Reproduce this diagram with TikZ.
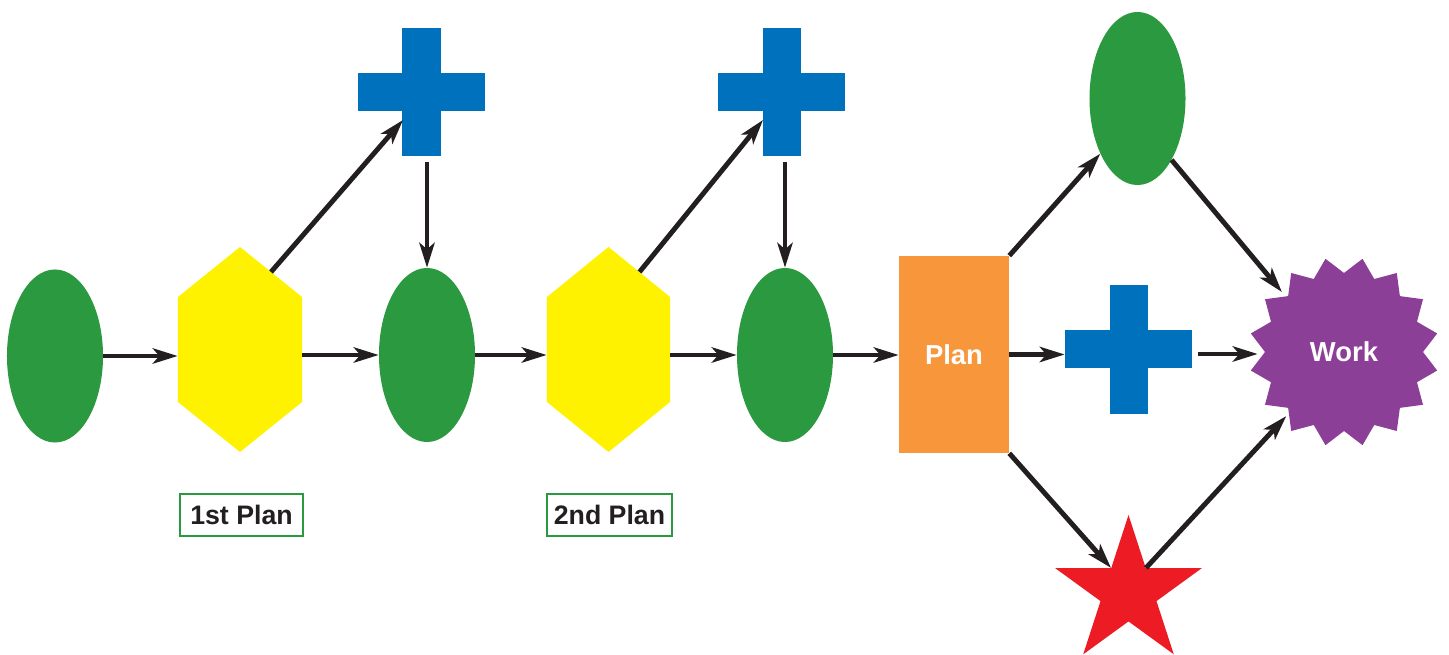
\documentclass[tikz,border=0pt]{standalone}
\usepackage{fontspec}
\setmainfont{Liberation Sans}
\usetikzlibrary{arrows.meta,shapes.geometric,calc}

\definecolor{leafgreen}{HTML}{2B9940}
\definecolor{sunyellow}{HTML}{FFF200}
\definecolor{crossblue}{HTML}{0071BC}
\definecolor{planorange}{HTML}{F7963B}
\definecolor{workpurple}{HTML}{8C3F96}
\definecolor{starred}{HTML}{ED1C24}
\definecolor{inkdark}{HTML}{231F20}

\tikzset{
  arr/.style={draw=inkdark, line width=3.5pt,
    -{Stealth[length=0.62cm,width=0.38cm,inset=0.16cm]}},
  greenoval/.style={ellipse, fill=leafgreen, inner sep=0pt,
    minimum width=2.4cm, minimum height=4.325cm},
  hexbox/.style={rectangle, inner sep=0pt, minimum width=3.1cm, minimum height=5.125cm,
    path picture={
      \fill[sunyellow] (path picture bounding box.north)
        -- ([yshift=1.3125cm]path picture bounding box.east)
        -- ([yshift=-1.3125cm]path picture bounding box.east)
        -- (path picture bounding box.south)
        -- ([yshift=-1.3125cm]path picture bounding box.west)
        -- ([yshift=1.3125cm]path picture bounding box.west) -- cycle;}},
  crossbox/.style={rectangle, inner sep=0pt, minimum width=3.175cm, minimum height=3.2cm,
    path picture={
      \fill[crossblue] ([xshift=-0.475cm]path picture bounding box.south)
        rectangle ([xshift=0.475cm]path picture bounding box.north);
      \fill[crossblue] ([yshift=-0.475cm]path picture bounding box.west)
        rectangle ([yshift=0.475cm]path picture bounding box.east);}},
  labelbox/.style={draw=leafgreen, line width=1.4pt, fill=white, text=inkdark,
    font=\fontsize{19}{22}\selectfont\bfseries, inner sep=0pt,
    minimum height=1.05cm},
  whitetext/.style={text=white, font=\fontsize{19.5}{22}\selectfont\bfseries}
}

\begin{document}
\begin{tikzpicture}[x=0.025cm, y=0.025cm]
  \fill[white] (0,0) rectangle (1449,655);
  \path[use as bounding box] (0,0) rectangle (1449,655);

  % first stage
  \node[greenoval] (ellA) at (55,299) {};
  \node[hexbox] (hexA) at (240,305.5) {};
  \node[crossbox] (plusA) at (421.5,563) {};
  \node[greenoval, minimum height=4.35cm] (ellB) at (427,300) {};
  \coordinate (hexAout) at ($(hexA.center)+(31,77.5)$);
  \coordinate (plusAin) at ($(plusA.center)+(-18.5,-28)$);
  \node[labelbox, minimum width=3.075cm] (lblA) at (241.5,140) {1st Plan};

  % second stage
  \node[hexbox, minimum width=3.075cm] (hexB) at (608.5,305.5) {};
  \node[crossbox] (plusB) at (781.5,563) {};
  \node[greenoval, minimum height=4.35cm] (ellC) at (785,300) {};
  \coordinate (hexBout) at ($(hexB.center)+(31,77.5)$);
  \coordinate (plusBin) at ($(plusB.center)+(-18.5,-28)$);
  \node[labelbox, minimum width=3.125cm] (lblB) at (609.5,140) {2nd Plan};

  % final plan and its branches
  \node[rectangle, fill=planorange, inner sep=0pt, minimum width=2.75cm,
        minimum height=4.925cm, whitetext] (plan) at (954,300.5) {Plan};
  \node[greenoval] (ellD) at (1137.5,556.5) {};
  \node[crossbox] (plusC) at (1128.5,305.5) {};
  \node[star, star points=5, star point ratio=2.618, fill=starred,
        inner sep=0pt, minimum size=3.85cm] (star) at (1128.5,63) {};

  % sixteen-point burst with its label
  \fill[workpurple, shift={(1344,303)}] (101.25:95)
    \foreach \i in {1,...,16} { -- (101.25+22.5*\i-11.25:79) -- (101.25+22.5*\i:95) } -- cycle;
  \node[circle, inner sep=0pt, minimum size=4.3cm, whitetext] (work) at (1344,303) {Work};

  % connectors
  \draw[arr] (ellA.east) -- (ellA.east -| hexA.west);
  \draw[arr] (hexA.east |- ellB.west) -- (ellB.west);
  \draw[arr] (hexAout) -- (plusAin);
  \draw[arr] ($(ellB.north |- plusA.south)+(0,-6)$) -- (ellB.north);
  \draw[arr] (ellB.east) -- (ellB.east -| hexB.west);
  \draw[arr] (hexB.east |- ellC.west) -- (ellC.west);
  \draw[arr] (hexBout) -- (plusBin);
  \draw[arr] ($(ellC.north |- plusB.south)+(0,-6)$) -- (ellC.north);
  \draw[arr] (ellC.east) -- (ellC.east -| plan.west);
  \draw[arr] (plan.east) -- (plan.east -| plusC.west);
  \draw[arr] (plan.north east) -- (ellD.236.5);
  \draw[arr] (plan.south east) -- (star.inner point 1);
  \draw[arr] (ellD.299.5) -- (work.136);
  \draw[arr] ($(plusC.east |- work.west)+(6,-2)$) -- ($(work.west)+(0,-2)$);
  \draw[arr] (star.inner point 5) -- (work.228);
\end{tikzpicture}
\end{document}
